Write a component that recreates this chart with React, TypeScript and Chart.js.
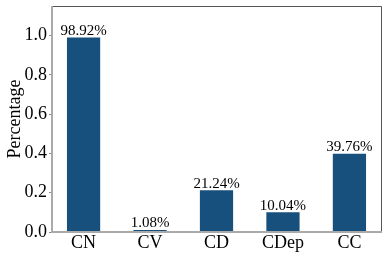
import React, { useEffect, useRef } from "react";
import { Chart, registerables } from "chart.js";

Chart.register(...registerables);

const categories = ["CN", "CV", "CD", "CDep", "CC"];
const values = [0.9892, 0.0108, 0.2124, 0.1004, 0.3976];
const valueLabels = ["98.92%", "1.08%", "21.24%", "10.04%", "39.76%"];
const yTicks = [0.0, 0.2, 0.4, 0.6, 0.8, 1.0];

const FONT = "'Liberation Serif', 'Times New Roman', serif";

export default function App() {
  const ref = useRef<HTMLCanvasElement | null>(null);

  useEffect(() => {
    document.body.style.margin = "0";
    const canvas = ref.current!;
    const spines = {
      id: "spines",
      afterDraw(chart: any) {
        const { ctx, chartArea: a } = chart;
        ctx.save();
        ctx.strokeStyle = "#555555";
        ctx.lineWidth = 1;
        ctx.beginPath();
        ctx.moveTo(a.left, a.top + 0.5);
        ctx.lineTo(a.right + 0.5, a.top + 0.5);
        ctx.lineTo(a.right + 0.5, a.bottom);
        ctx.stroke();
        ctx.strokeStyle = "#aaaaaa";
        ctx.lineWidth = 2;
        ctx.beginPath();
        ctx.moveTo(a.left, a.top);
        ctx.lineTo(a.left, a.bottom);
        ctx.lineTo(a.right + 1, a.bottom);
        ctx.stroke();
        ctx.restore();
      },
    };
    const labels = {
      id: "valueLabels",
      afterDatasetsDraw(chart: any) {
        const { ctx } = chart;
        const meta = chart.getDatasetMeta(0);
        ctx.save();
        ctx.font = `15px ${FONT}`;
        ctx.fillStyle = "#000";
        ctx.textAlign = "center";
        ctx.textBaseline = "bottom";
        meta.data.forEach((el: any, i: number) => {
          ctx.fillText(valueLabels[i], el.x, el.y + 1);
        });
        ctx.restore();
      },
    };
    const chart = new Chart(canvas, {
      type: "bar",
      data: {
        datasets: [
          {
            data: values.map((v, i) => ({ x: i, y: v })),
            backgroundColor: "#17507c",
            borderWidth: 0,
            categoryPercentage: 1,
            barPercentage: 0.5,
          },
        ],
      },
      options: {
        responsive: false,
        animation: false,
        layout: { padding: { top: 6, right: 7, left: 4, bottom: 0 } },
        plugins: { legend: { display: false }, tooltip: { enabled: false } },
        scales: {
          x: {
            type: "linear",
            offset: false,
            min: -0.475,
            max: 4.475,
            afterBuildTicks(axis: any) {
              axis.ticks = categories.map((_, i) => ({ value: i }));
            },
            afterFit(axis: any) {
              axis.height = 27;
              axis.paddingLeft = 0;
              axis.paddingRight = 0;
            },
            ticks: {
              autoSkip: false,
              maxRotation: 0,
              padding: 0,
              color: "#000",
              font: { family: FONT, size: 18 },
              callback: (v: any) => categories[v as number] ?? "",
            },
            grid: { display: false, drawTicks: false },
            border: { display: false },
          },
          y: {
            min: 0,
            max: 1.15,
            afterBuildTicks(axis: any) {
              axis.ticks = yTicks.map((v) => ({ value: v }));
            },
            afterFit(axis: any) {
              axis.width = 48;
              axis.paddingTop = 0;
              axis.paddingBottom = 0;
            },
            title: {
              display: true,
              text: "Percentage",
              color: "#000",
              font: { family: FONT, size: 18 },
              padding: { top: 0, bottom: 0 },
            },
            ticks: {
              color: "#000",
              padding: 2,
              font: { family: FONT, size: 18 },
              callback: (v: any) => Number(v).toFixed(1),
            },
            grid: {
              display: true,
              drawOnChartArea: false,
              drawTicks: true,
              tickLength: 3,
              color: "#888888",
            },
            border: { display: false },
          },
        },
      },
      plugins: [spines, labels],
    });
    return () => chart.destroy();
  }, []);

  return (
    <div style={{ width: 388, height: 259 }}>
      <canvas ref={ref} width={388} height={259} style={{ display: "block" }} />
    </div>
  );
}
